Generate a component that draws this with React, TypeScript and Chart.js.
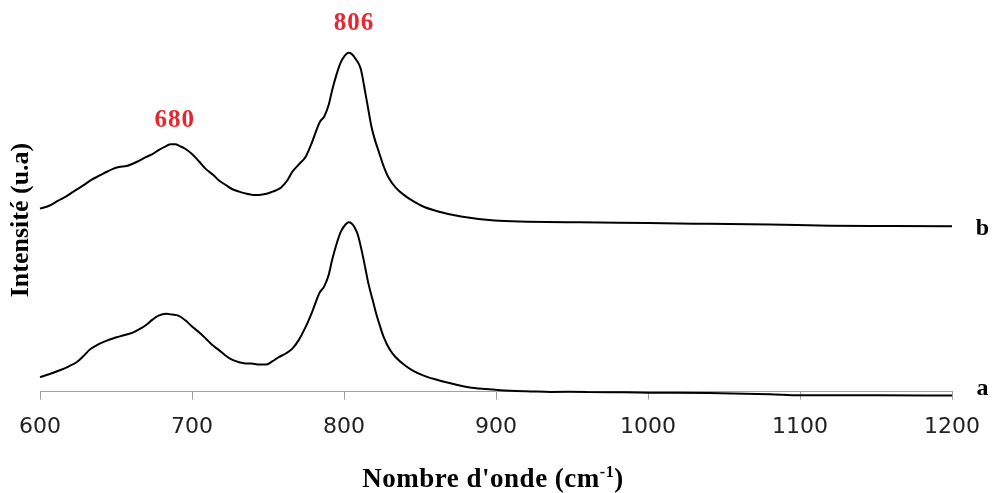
import React, { useEffect, useRef } from "react";
import { Chart, registerables } from "chart.js";

Chart.register(...registerables);

// Wavenumbers (cm-1) and intensities (u.a) for spectrum b (top)
const waveB = [600, 606, 612, 617, 622, 628, 634, 639, 644, 648, 652, 657, 661, 665, 670, 674, 678, 683, 686, 689, 692, 695, 700, 705, 709, 714, 718, 722, 726, 731, 736, 740, 744, 749, 753, 756, 759, 763, 766, 770, 775, 779, 784, 787, 790, 792, 795, 798, 800, 803, 805, 808, 811, 814, 816, 818, 820, 823, 826, 829, 834, 840, 845, 851, 862, 877, 899, 921, 955, 1000, 1040, 1080, 1120, 1160, 1200];
const intensB = [50.6, 51.4, 52.8, 53.9, 55.3, 56.9, 58.6, 59.7, 60.8, 61.6, 62.1, 62.4, 63.0, 63.8, 64.9, 65.7, 66.8, 67.9, 68.4, 68.4, 67.9, 67.3, 65.7, 63.5, 61.6, 59.9, 58.3, 57.2, 56.1, 55.3, 54.7, 54.4, 54.4, 54.7, 55.3, 55.8, 56.6, 58.6, 60.8, 62.7, 65.1, 69.0, 74.5, 76.1, 79.4, 83.0, 87.6, 91.2, 92.6, 93.7, 93.4, 91.8, 89.3, 82.7, 78.0, 73.4, 70.1, 66.2, 62.4, 59.4, 56.4, 54.2, 52.8, 51.4, 49.8, 48.4, 47.3, 47.0, 46.8, 46.6, 46.4, 46.2, 45.9, 45.8, 45.7];

// Spectrum a (bottom)
const waveA = [600, 606, 613, 619, 624, 629, 633, 638, 644, 648, 652, 657, 661, 666, 670, 674, 678, 683, 687, 691, 696, 700, 705, 709, 713, 718, 722, 726, 731, 735, 739, 744, 749, 753, 757, 762, 766, 770, 775, 779, 784, 787, 790, 792, 795, 798, 801, 803, 805, 807, 809, 812, 814, 816, 819, 821, 824, 826, 830, 834, 840, 845, 852, 860, 870, 882, 893, 903, 920, 936, 960, 1000, 1040, 1080, 1100, 1150, 1200];
const intensA = [4.0, 4.8, 5.9, 7.0, 8.1, 10.0, 11.7, 13.0, 14.1, 14.7, 15.2, 15.8, 16.3, 17.4, 18.5, 19.9, 21.0, 21.5, 21.3, 21.0, 19.6, 18.0, 16.3, 14.7, 13.0, 11.4, 10.0, 8.9, 8.1, 7.8, 7.8, 7.5, 7.5, 8.4, 9.5, 10.6, 11.9, 14.1, 18.1, 22.0, 27.4, 29.1, 32.4, 36.1, 40.7, 44.3, 46.2, 46.8, 46.5, 45.4, 43.5, 38.3, 34.2, 30.0, 25.1, 21.8, 17.7, 15.2, 11.7, 9.5, 7.3, 5.9, 4.5, 3.4, 2.3, 1.2, 0.7, 0.4, 0.1, -0.1, -0.1, -0.3, -0.4, -0.7, -1.0, -1.0, -1.1];

// Annotations
const peakLabels = ["680", "806"];
const peakLabelX = [688, 806];
const peakLabelY = [75.0, 101.8];

const seriesLabels = ["b", "a"];
const seriesLabelX = [1220, 1220];
const seriesLabelY = [43.2, -1.0];

const xTicks = [600, 700, 800, 900, 1000, 1100, 1200];
const xTitle = "Nombre d'onde (cm";
const xTitleSup = "-1";
const yTitle = "Intensité (u.a)";

const serif = "'Liberation Serif', 'Times New Roman', serif";

const annotationPlugin = {
  id: "annotations",
  afterDraw(chart: any) {
    const ctx = chart.ctx;
    const xs = chart.scales.x;
    const ys = chart.scales.y;
    const area = chart.chartArea;
    ctx.save();

    // peak labels
    ctx.fillStyle = "#e8262d";
    ctx.font = `bold 25px ${serif}`;
    ctx.textAlign = "center";
    ctx.textBaseline = "middle";
    (ctx as any).letterSpacing = "1px";
    peakLabels.forEach((t, i) => {
      ctx.fillText(t, xs.getPixelForValue(peakLabelX[i]) + 1, ys.getPixelForValue(peakLabelY[i]));
    });
    (ctx as any).letterSpacing = "0px";

    // series labels
    ctx.fillStyle = "#000";
    ctx.font = `bold 24px ${serif}`;
    ctx.textBaseline = "alphabetic";
    seriesLabels.forEach((t, i) => {
      ctx.fillText(t, xs.getPixelForValue(seriesLabelX[i]), ys.getPixelForValue(seriesLabelY[i]));
    });

    // x title with superscript
    const cx = (area.left + area.right) / 2 - 3;
    const ty = 487;
    (ctx as any).letterSpacing = "0.5px";
    ctx.font = `bold 27px ${serif}`;
    const w1 = ctx.measureText(xTitle).width;
    const w3 = ctx.measureText(")").width;
    ctx.font = `bold 16px ${serif}`;
    const w2 = ctx.measureText(xTitleSup).width;
    const x0 = cx - (w1 + w2 + w3) / 2;
    ctx.textAlign = "left";
    ctx.font = `bold 27px ${serif}`;
    ctx.fillText(xTitle, x0, ty);
    ctx.font = `bold 16px ${serif}`;
    ctx.fillText(xTitleSup, x0 + w1, ty - 10);
    ctx.font = `bold 27px ${serif}`;
    ctx.fillText(")", x0 + w1 + w2, ty);
    (ctx as any).letterSpacing = "0px";

    // y title
    ctx.translate(21, 220);
    ctx.rotate(-Math.PI / 2);
    ctx.textAlign = "center";
    ctx.textBaseline = "middle";
    ctx.font = `bold 26px ${serif}`;
    ctx.fillText(yTitle, 0, 0);

    ctx.restore();
  },
};

export default function App() {
  const ref = useRef<HTMLCanvasElement | null>(null);

  useEffect(() => {
    if (!ref.current) return;
    const chart = new Chart(ref.current, {
      type: "line",
      data: {
        datasets: [
          {
            label: "b",
            data: waveB.map((x, i) => ({ x, y: intensB[i] })),
            borderColor: "#000",
            borderWidth: 2,
            pointRadius: 0,
            cubicInterpolationMode: "monotone",
            clip: false,
            fill: false,
          },
          {
            label: "a",
            data: waveA.map((x, i) => ({ x, y: intensA[i] })),
            borderColor: "#000",
            borderWidth: 2,
            pointRadius: 0,
            cubicInterpolationMode: "monotone",
            clip: false,
            fill: false,
          },
        ],
      },
      options: {
        animation: false,
        responsive: true,
        maintainAspectRatio: false,
        layout: { padding: { left: 40, right: 39, top: 30, bottom: 39 } },
        plugins: {
          legend: { display: false },
          tooltip: { enabled: false },
          title: { display: false },
        },
        scales: {
          x: {
            type: "linear",
            min: 600,
            max: 1200,
            afterBuildTicks: (scale: any) => {
              scale.ticks = xTicks.map((v) => ({ value: v }));
            },
            ticks: {
              color: "#222",
              font: { family: "'DejaVu Sans', sans-serif", size: 22 },
              padding: 14,
              maxRotation: 0,
              callback: (v: any) => String(v),
            },
            grid: {
              display: true,
              drawOnChartArea: false,
              drawTicks: true,
              tickLength: 8,
              color: "#a0a0a0",
            },
            border: { display: true, color: "#a0a0a0", width: 1 },
          },
          y: {
            display: false,
            min: 0,
            max: 100,
          },
        },
      },
      plugins: [annotationPlugin],
    });
    return () => chart.destroy();
  }, []);

  return (
    <div style={{ position: "fixed", left: 0, top: 0, width: 994, height: 493, background: "#fff" }}>
      <canvas ref={ref} />
    </div>
  );
}
